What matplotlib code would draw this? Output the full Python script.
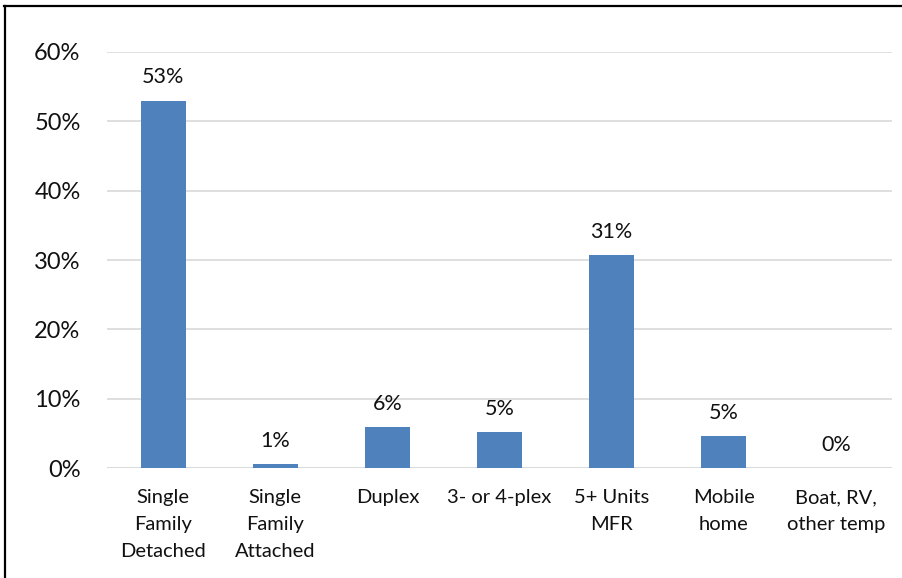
import matplotlib
matplotlib.use("Agg")
import matplotlib.pyplot as plt
from matplotlib.lines import Line2D

categories = ["Single\nFamily\nDetached", "Single\nFamily\nAttached", "Duplex",
              "3- or 4-plex", "5+ Units\nMFR", "Mobile\nhome", "Boat, RV,\nother temp"]
shares = [52.9, 0.6, 5.9, 5.2, 30.7, 4.6, 0.0]
y_ticks = [0, 10, 20, 30, 40, 50, 60]
y_tick_labels = ["0%", "10%", "20%", "30%", "40%", "50%", "60%"]

plt.rcParams["font.family"] = ["Lato", "DejaVu Sans"]

W, H = 903, 578
fig = plt.figure(figsize=(W / 100, H / 100), dpi=100)
ax = fig.add_axes([107 / W, 1 - 468.3 / H, (892 - 107) / W, (468.3 - 51.7) / H])

x = list(range(len(categories)))
ax.bar(x, shares, width=0.4, color="#4F81BD", zorder=3)

for xi, v in zip(x, shares):
    ax.annotate(f"{v:.0f}%", (xi, v), xytext=(0, 17), textcoords="offset points",
                ha="center", va="center", fontsize=15.5, color="#111111")

ax.set_xlim(-0.5, len(categories) - 0.5)
ax.set_ylim(0, 60)
ax.set_yticks(y_ticks)
ax.set_yticklabels(y_tick_labels, fontsize=17, color="#111111")
ax.set_xticks(x)
ax.set_xticklabels(categories, fontsize=14.5, color="#111111", linespacing=1.72)
ax.tick_params(axis="both", length=0)
ax.tick_params(axis="y", pad=19)
ax.tick_params(axis="x", pad=15)

ax.grid(axis="y", color="#D9D9D9", linewidth=1.2, zorder=0)
for s in ax.spines.values():
    s.set_visible(False)
ax.axhline(0, color="#D9D9D9", linewidth=1.2, zorder=2)

# outer frame (top and left edges)
fig.add_artist(Line2D([4 / W, 1], [1 - 6 / H, 1 - 6 / H], color="black", linewidth=1.6,
                      transform=fig.transFigure))
fig.add_artist(Line2D([5 / W, 5 / W], [0, 1 - 6 / H], color="black", linewidth=1.6,
                      transform=fig.transFigure))

fig.savefig("out.png", dpi=100)
